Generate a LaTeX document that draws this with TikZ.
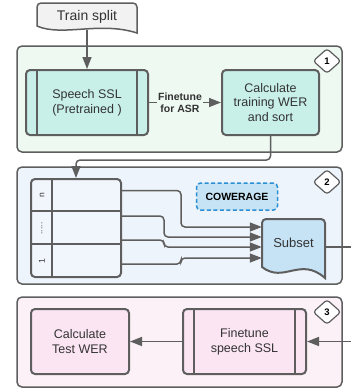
\documentclass[tikz,border=0pt]{standalone}
\usepackage{fontspec}
\setmainfont{Liberation Sans}
\usetikzlibrary{arrows.meta,calc,shapes.geometric}
\definecolor{bord}{HTML}{5E5E5E}
\definecolor{txt}{HTML}{333333}
\definecolor{cgreen}{HTML}{EDF9F1}
\definecolor{cblue}{HTML}{EEF4FB}
\definecolor{cpink}{HTML}{FCF1F6}
\definecolor{teal}{HTML}{C8F0E9}
\definecolor{lblue}{HTML}{C6E3F5}
\definecolor{pink}{HTML}{FBE5F3}
\definecolor{grayfill}{HTML}{F2F2F2}
\definecolor{tabfill}{HTML}{F1F6FC}
\definecolor{dashblue}{HTML}{2A8FD4}
\tikzset{
  cont/.style={draw=bord, line width=1.5pt, rounded corners=5pt},
  box/.style={draw=bord, line width=2pt, rounded corners=4pt, minimum height=65pt,
    align=center, text=txt, font=\fontsize{12.5}{14.8}\selectfont, inner sep=0pt},
  conn/.style={draw=bord, line width=1.5pt, -{Triangle[length=12pt,width=9pt]}},
  badge/.style={diamond, draw=bord, fill=white, line width=1.2pt, rounded corners=3pt,
    minimum width=28pt, minimum height=25pt, inner sep=0pt, text=black,
    font=\fontsize{9.5}{9.5}\selectfont\bfseries},
  rowlab/.style={rotate=90, text=txt, font=\fontsize{8.5}{8.5}\selectfont, inner sep=0pt},
}
\begin{document}
\begin{tikzpicture}[x=1pt,y=-1pt]
\useasboundingbox (0,0) rectangle (351,392);
% containers
\draw[cont, fill=cgreen] (17,46) rectangle (342,152);
\draw[cont, fill=cblue] (17,167) rectangle (342,284);
\draw[cont, fill=cpink] (17,297) rectangle (342,387);
\node[badge] (b1) at (327,61) {1};
\node[badge] (b2) at (327,182) {2};
\node[badge] (b3) at (327,312) {3};
% train split
\filldraw[draw=bord, fill=grayfill, line width=1.5pt] (37,26) [rounded corners=4pt] -- (37,3) -- (137,3) [sharp corners] -- (137,33) .. controls (100,21) and (62,37) .. (37,26) -- cycle;
\node[text=txt, font=\fontsize{14}{16}\selectfont, minimum height=27pt, inner sep=0pt] (ts) at (87,16.5) {Train split};
% stage 1
\node[box, fill=teal, minimum width=122pt] (ssl) at (87,102.5) {Speech SSL\\(Pretrained )};
\draw[bord, line width=2pt] ([xshift=12pt]ssl.north west) -- ([xshift=12pt]ssl.south west)
  ([xshift=-12pt]ssl.north east) -- ([xshift=-12pt]ssl.south east);
\node[box, fill=teal, minimum width=97pt] (calc) at (270.5,102.5) {Calculate\\training WER\\and sort};
\draw[conn] (ts.south) -- (ssl.north);
\draw[conn] (ssl.east) -- node[pos=0.43, fill=cgreen, inner sep=1pt, align=center, text=txt,
  font=\fontsize{10.5}{12}\selectfont\bfseries] (lab) {Finetune\\for ASR} (calc.west);
% stage 2
\node[draw=bord, line width=2pt, rounded corners=4pt, fill=tabfill, minimum width=90pt,
  minimum height=98pt, inner sep=0pt] (tab) at (76,228) {};
\draw[bord, line width=2pt] ($(tab.north west)+(0,33)$) -- ($(tab.north east)+(0,33)$)
  ($(tab.north west)+(0,66)$) -- ($(tab.north east)+(0,66)$)
  ($(tab.north west)+(22,0)$) -- ($(tab.south west)+(22,0)$);
\node[rowlab] (ln) at (42,195.5) {n};
\node[rowlab] (ld) at (42,228.5) {.....};
\node[rowlab] (l1) at (42,261) {1};
\draw[conn, rounded corners=4pt] (calc.south) -- ++(0,24) -| ($(tab.north west)+(46,0)$);
\node[draw=dashblue, dashed, dash pattern=on 4pt off 2.5pt, line width=1.5pt, fill=lblue,
  rounded corners=4pt, minimum width=81pt, minimum height=27pt, text=black,
  font=\fontsize{10.5}{12}\selectfont\bfseries] (cow) at (237,196.5) {COWERAGE};
\filldraw[draw=bord, fill=lblue, line width=2pt] (262,267) [rounded corners=4pt] -- (262,219) -- (325,219) [sharp corners] -- (325,278) .. controls (300,256) and (284,284) .. (262,267) -- cycle;
\node[minimum width=63pt, minimum height=59pt, inner sep=0pt] (sub) at (293.5,248.5) {};
\node[text=txt, font=\fontsize{13}{15}\selectfont] (subt) at (293.5,243) {Subset};
\draw[conn, rounded corners=4pt] ($(tab.north east)+(0,12.5)$) -- ++(59,0) |- ($(sub.west)+(0,-21.5)$);
\draw[conn, rounded corners=4pt] ($(tab.north east)+(0,38)$) -- ++(42,0) |- ($(sub.west)+(0,-11.5)$);
\draw[conn, rounded corners=4pt] ($(tab.north east)+(0,62)$) -- ++(42,0) |- ($(sub.west)+(0,-1.5)$);
\draw[conn, rounded corners=4pt] ($(tab.north east)+(0,86)$) -- ++(59,0) |- ($(sub.west)+(0,9.5)$);
% stage 3
\node[box, fill=pink, minimum width=98pt] (ctw) at (80,341.5) {Calculate\\Test WER};
\node[box, fill=pink, minimum width=123pt] (fin) at (244.5,341.5) {Finetune\\speech SSL};
\draw[bord, line width=2pt] ([xshift=12pt]fin.north west) -- ([xshift=12pt]fin.south west)
  ([xshift=-12pt]fin.north east) -- ([xshift=-12pt]fin.south east);
\draw[conn] (fin.west) -- (ctw.east);
\draw[conn] ($(sub.east)+(0,-1.5)$) -- ++(40,0) |- (fin.east);
\end{tikzpicture}
\end{document}
